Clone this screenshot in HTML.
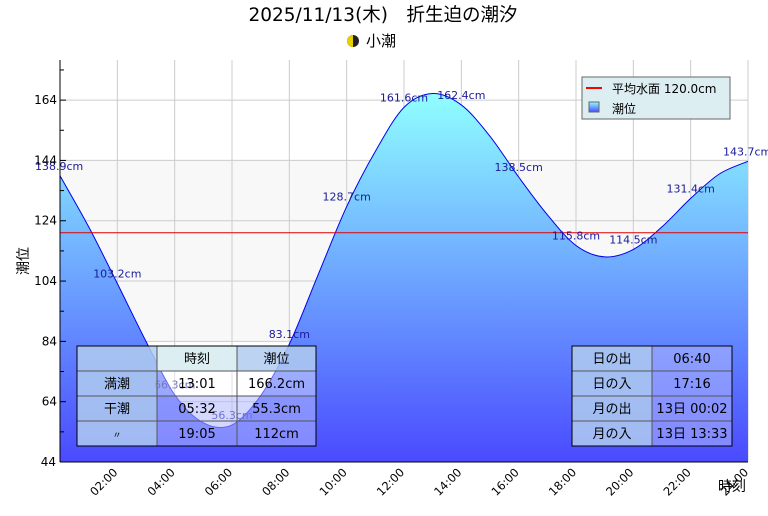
<!DOCTYPE html>
<html><head><meta charset="utf-8"><style>
body{margin:0;background:#fff;width:768px;height:512px;overflow:hidden;font-family:"DejaVu Sans","Noto Sans CJK JP",sans-serif}
svg text{font-family:"DejaVu Sans","Noto Sans CJK JP",sans-serif}
</style></head><body>
<svg id="c" width="768" height="512" xmlns="http://www.w3.org/2000/svg">
<defs>
<linearGradient id="fillg" x1="0" y1="93" x2="0" y2="462" gradientUnits="userSpaceOnUse">
<stop offset="0" stop-color="#90ffff"/><stop offset="1" stop-color="#4a4aff"/></linearGradient>
<linearGradient id="legg" x1="0" y1="0" x2="0" y2="1"><stop offset="0" stop-color="#90ffff"/><stop offset="1" stop-color="#4a4aff"/></linearGradient>
</defs>
<text x="383" y="21" font-size="18.5" text-anchor="middle">2025/11/13(木)　折生迫の潮汐</text>
<g>
<circle cx="353" cy="41" r="6" fill="#222"/><path d="M353,35 A6,6 0 0 0 353,47 Z" fill="#e8d000"/>
<text x="366" y="46" font-size="15">小潮</text></g>
<g id="plot"></g>
</svg>
<script>
const hours=[0,1,2,3,4,5,6,7,8,9,10,11,12,13,14,15,16,17,18,19,20,21,22,23,24];
const levels=[138.9,122,103.2,84,66.3,57,56.3,66,83.1,106,128.7,147,161.6,166.2,162.4,152,138.5,126,115.8,112,114.5,122,131.4,139.5,143.7];
const labelHours=[0,2,4,6,8,10,12,14,16,18,20,22,24];
const yTicks=[44,64,84,104,124,144,164];
const xTickLabels=["02:00","04:00","06:00","08:00","10:00","12:00","14:00","16:00","18:00","20:00","22:00","24:00"];
const meanLevel=120.0;
const X0=60,X1=748,Y0=462,Y1=60,YMIN=44,YMAX=177.3;
const xs=h=>X0+(X1-X0)*h/24;
const ys=v=>Y0-(Y0-Y1)*(v-YMIN)/(YMAX-YMIN);
const NS="http://www.w3.org/2000/svg";
const g=document.getElementById('plot');
function el(t,a,p){const e=document.createElementNS(NS,t);for(const k in a)e.setAttribute(k,a[k]);(p||g).appendChild(e);return e;}
const band=el('rect',{x:X0,y:ys(144),width:X1-X0,height:ys(84)-ys(144),fill:'#f8f8f8'});


for(let i=1;i<=12;i++){const l=el('line',{x1:xs(i*2),x2:xs(i*2),y1:Y1,y2:Y0,stroke:'#ccc'});

}
yTicks.forEach(v=>{const l=el('line',{x1:X0,x2:X1,y1:ys(v),y2:ys(v),stroke:'#ccc'});

});
let pts=hours.map((h,i)=>[xs(h),ys(levels[i])]);
let d='M'+pts[0][0]+','+pts[0][1];
for(let i=0;i<pts.length-1;i++){const p0=pts[Math.max(0,i-1)],p1=pts[i],p2=pts[i+1],p3=pts[Math.min(pts.length-1,i+2)];
d+=' C'+(p1[0]+(p2[0]-p0[0])/6)+','+(p1[1]+(p2[1]-p0[1])/6)+' '+(p2[0]-(p3[0]-p1[0])/6)+','+(p2[1]-(p3[1]-p1[1])/6)+' '+p2[0]+','+p2[1];}
const area=el('path',{d:d+' L'+X1+','+Y0+' L'+X0+','+Y0+' Z',fill:'url(#fillg)'});


const line=el('path',{d:d,fill:'none',stroke:'#0000ee','stroke-width':1});


const mean=el('line',{x1:X0,x2:X1,y1:ys(meanLevel),y2:ys(meanLevel),stroke:'#e00000'});


labelHours.forEach(h=>{const v=levels[hours.indexOf(h)];
let x=xs(h);let anchor='middle';if(h===0){x=X0-25;anchor='start';}if(h===24){x=X1-25;anchor='start';}
const t=el('text',{x:x,y:ys(v)-6,'font-size':11,fill:'#1a1a9a','text-anchor':anchor});t.textContent=v.toFixed(1)+'cm';

});
el('line',{x1:X0,x2:X0,y1:Y1,y2:Y0,stroke:'#000'});
el('line',{x1:X0,x2:X1,y1:Y0,y2:Y0,stroke:'#000'});
for(let v=44;v<=174;v+=10){el('line',{x1:X0,x2:X0+(yTicks.includes(v)?6:4),y1:ys(v),y2:ys(v),stroke:'#000'});}
yTicks.slice(1).forEach(v=>{const t=el('text',{x:X0-3,y:ys(v)+4,'font-size':12,'text-anchor':'end'});t.textContent=v;

});
const t44=el('text',{x:X0-4,y:Y0+4,'font-size':12,'text-anchor':'end'});t44.textContent=yTicks[0];
xTickLabels.forEach((s,i)=>{const x=xs((i+1)*2);const t=el('text',{x:x+1,y:Y0+11,'font-size':11.5,'text-anchor':'end',transform:'rotate(-45 '+(x+1)+' '+(Y0+11)+')'});t.textContent=s;

});
const yt=el('text',{x:0,y:0,'font-size':14,transform:'translate(28,261) rotate(-90)','text-anchor':'middle'});yt.textContent='潮位';


const xt=el('text',{x:746,y:491,'font-size':14,'text-anchor':'end'});xt.textContent='時刻';


const lg=el('g',{});


el('rect',{x:582,y:77,width:148,height:42,fill:'#ddeef2',stroke:'#666'},lg);
el('line',{x1:586,x2:602,y1:88,y2:88,stroke:'#f00','stroke-width':2},lg);
const l1=el('text',{x:612,y:93,'font-size':12},lg);l1.textContent='平均水面 '+meanLevel.toFixed(1)+'cm';
el('rect',{x:589,y:102,width:10,height:10,fill:'url(#legg)',stroke:'#666'},lg);
const l2=el('text',{x:612,y:113,'font-size':12},lg);l2.textContent='潮位';
function table(x,y,ws,rows,bgs,name){const tg=el('g',{});


rows.forEach((r,ri)=>{let cx=x;r.forEach((c,ci)=>{const b=bgs[ri][ci];
el('rect',{x:cx,y:y+ri*25,width:ws[ci],height:25,fill:b[0],'fill-opacity':b[1],stroke:'#555'},tg);
const t=el('text',{x:cx+ws[ci]/2,y:y+ri*25+17,'font-size':c==='〃'?9:13,'text-anchor':'middle'},tg);t.textContent=c;cx+=ws[ci];});});
el('rect',{x:x,y:y,width:ws.reduce((a,b)=>a+b),height:rows.length*25,fill:'none',stroke:'#000'},tg);}
const hd=['#b0cdf0',0.85],cl=['#ddeef2',1],wt=['#ffffff',0.4],bl=['#b0b8ff',0.55];
table(77,346,[80,80,79],[['','時刻','潮位'],['満潮','13:01','166.2cm'],['干潮','05:32','55.3cm'],['〃','19:05','112cm']],
[[hd,cl,hd],[hd,wt,wt],[hd,bl,bl],[hd,bl,bl]],'tide-table');
table(572,346,[80,80],[['日の出','06:40'],['日の入','17:16'],['月の出','13日 00:02'],['月の入','13日 13:33']],
[[hd,bl],[hd,bl],[hd,bl],[hd,bl]],'sun-moon-table');
</script>
</body></html>
